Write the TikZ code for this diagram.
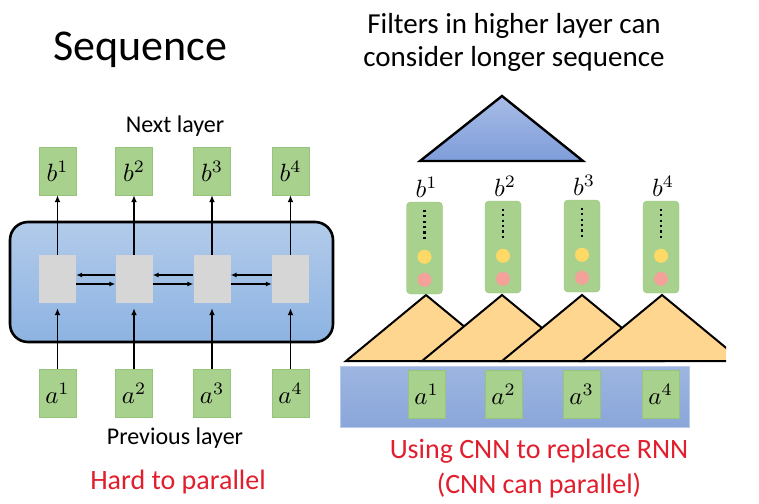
\documentclass[tikz,border=0pt]{standalone}
\usepackage{fontspec}
\setmainfont{Carlito}
\usetikzlibrary{arrows.meta,calc}
\definecolor{gfill}{HTML}{A9D18E}
\definecolor{gline}{HTML}{96C47A}
\definecolor{grayb}{HTML}{D6D6D6}
\definecolor{blueT}{HTML}{B2CBEA}
\definecolor{blueB}{HTML}{8DB3E2}
\definecolor{triT}{HTML}{A8BCE6}
\definecolor{triB}{HTML}{7E9DDA}
\definecolor{orng}{HTML}{FFD68F}
\definecolor{yel}{HTML}{FFD966}
\definecolor{pink}{HTML}{F4A19A}
\definecolor{redtxt}{HTML}{E01E2D}
\definecolor{barT}{HTML}{9DB5E0}
\definecolor{barB}{HTML}{8AA6DA}
\newcommand{\mylargemath}[1]{\scalebox{2.5}{$#1$}}
\tikzset{
  gbox/.style={draw=gline,fill=gfill,minimum width=37pt,minimum height=48pt,inner sep=0pt},
  cellbox/.style={fill=grayb,minimum width=37pt,minimum height=48pt,inner sep=0pt},
  arr/.style={line width=1.8pt,-{Latex[length=7pt,width=6pt]}},
  harr/.style={line width=1.8pt,-{Latex[length=6pt,width=5pt]}},
  colbox/.style={draw=gline,fill=gfill,rounded corners=4pt,minimum width=36pt,minimum height=92pt,inner sep=0pt},
  lbl/.style={font=\fontsize{24}{28}\selectfont},
  mlbl/.style={inner sep=1pt},
  redlbl/.style={text=redtxt,font=\fontsize{28}{35}\selectfont,align=center},
  tri/.style={draw=black,line width=2pt,line join=miter,fill=orng},
}
\begin{document}
\begin{tikzpicture}[x=1pt,y=-1pt]
\useasboundingbox (0,0) rectangle (759,503);
% ---------- left ----------
\node[font=\fontsize{44}{48}\selectfont] (seq) at (140,50) {Sequence};
\node[lbl] (next) at (175,126) {Next layer};
\draw[line width=2.6pt,rounded corners=18pt,top color=blueT,bottom color=blueB] (10,222) rectangle (333,342);
\foreach \i/\x in {1/57.5,2/134,3/212,4/290.5}{
  \node[gbox] (b\i) at (\x,171) {\mylargemath{b^{\i}}};
  \node[cellbox] (g\i) at (\x,279) {};
  \node[gbox] (a\i) at (\x,393) {\mylargemath{a^{\i}}};
  \draw[arr] (g\i.north) -- (b\i.south);
  \draw[arr] (a\i.north) -- ([yshift=-5pt]g\i.south);
}
\foreach \i/\j in {1/2,2/3,3/4}{
  \draw[harr] ($(g\j.west)+(0,-4)$) -- ($(g\i.east)+(0,-4)$);
  \draw[harr] ($(g\i.east)+(0,5)$) -- ($(g\j.west)+(0,5)$);
}
\node[lbl] (prev) at (175,438) {Previous layer};
\node[redlbl] (hard) at (178,482) {Hard to parallel};
% ---------- right ----------
\node[font=\fontsize{29}{33}\selectfont,align=center] (filt) at (514,42) {Filters in higher layer can\\consider longer sequence};
\draw[line width=2.4pt,line join=miter,top color=triT,bottom color=triB] (502,96) -- (583,161) -- (420,161) -- cycle;
% bar with a's
\draw[draw=barT!70!white,top color=barT,bottom color=barB] (340,366) rectangle (689,427);
\foreach \i/\x in {1/426.5,2/503.5,3/581.5,4/660.5}{
  \node[gbox] (x\i) at (\x,394) {\mylargemath{a^{\i}}};
}
% orange triangles
\begin{scope}
\clip (0,0) rectangle (726,503);
\foreach \x in {426,502,582,662}{
  \draw[tri] (\x,295) -- (\x+80,361) -- (\x-80,361) -- cycle;
}
\end{scope}
% columns
\foreach \i/\x/\y in {1/424.5/248,2/503/247,3/582/246,4/661/247}{
  \node[colbox] (c\i) at (\x,\y) {};
  \node[mlbl,anchor=south] (lb\i) at ($(c\i.north)+(2,-3)$) {\mylargemath{b^{\i}}};
  \draw[line width=2.4pt,dash pattern=on 2.2pt off 3.2pt] ($(c\i.north)+(0,8)$) -- ($(c\i.north)+(0,40)$);
  \node[circle,fill=yel,minimum size=14pt,inner sep=0pt] (y\i) at ($(c\i.north)+(0,55)$) {};
  \node[circle,fill=pink,minimum size=14pt,inner sep=0pt] (r\i) at ($(c\i.north)+(0,78)$) {};
}
\node[redlbl] (cnn) at (539,469) {Using CNN to replace RNN\\(CNN can parallel)};
\end{tikzpicture}
\end{document}
